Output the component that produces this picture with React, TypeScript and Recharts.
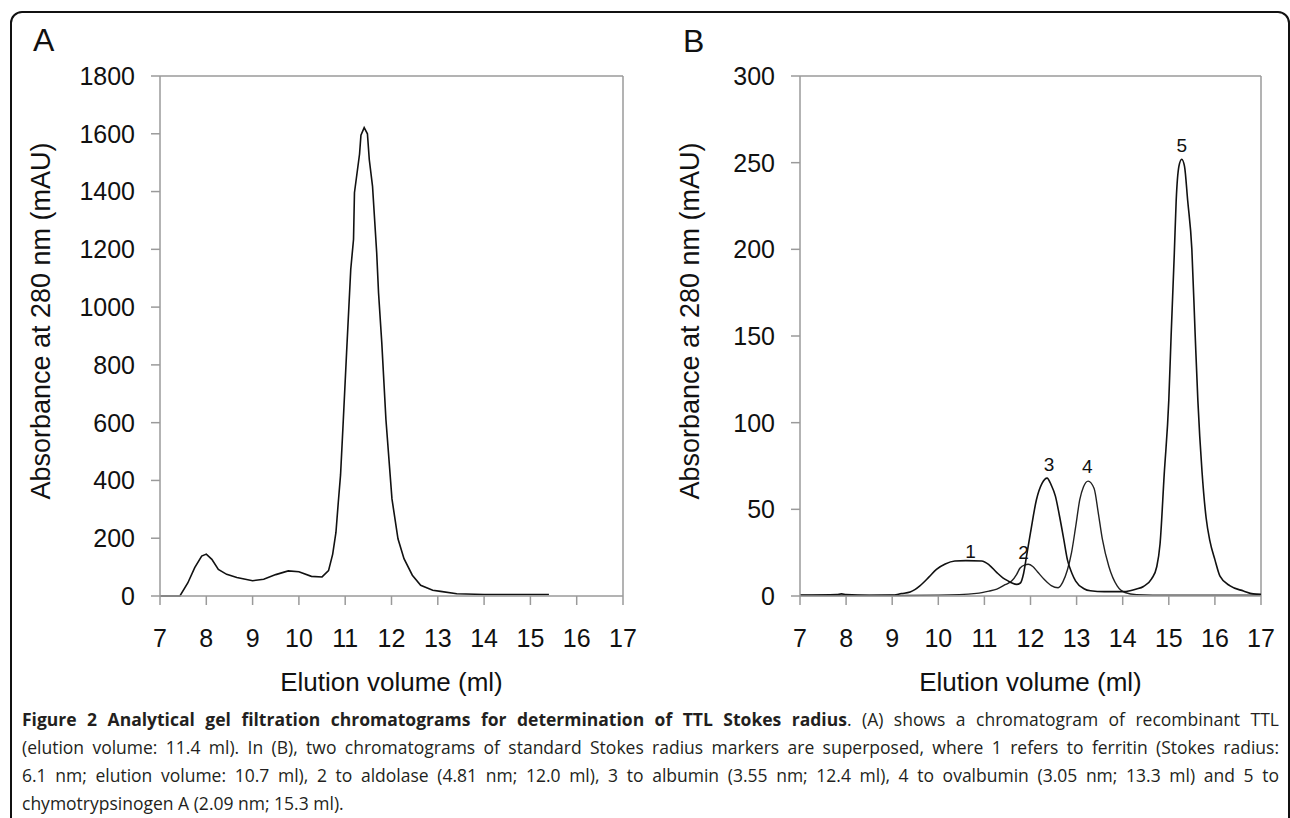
import { LineChart, Line, XAxis, YAxis, ReferenceLine, ReferenceDot } from "recharts";

// Panel A: recombinant TTL
const volumeA = [7.0, 7.43, 7.6, 7.75, 7.9, 8.0, 8.12, 8.26, 8.44, 8.66, 9.0, 9.24, 9.5, 9.77, 10.0, 10.27, 10.5, 10.64, 10.73, 10.8, 10.85, 10.9, 10.95, 11.03, 11.12, 11.18, 11.2, 11.31, 11.34, 11.41, 11.48, 11.52, 11.59, 11.68, 11.72, 11.79, 11.88, 12.01, 12.14, 12.27, 12.45, 12.63, 12.89, 13.06, 13.41, 14.0, 15.4];
const absorbanceA = [0, 0, 45, 98, 138, 145, 127, 92, 75, 64, 53, 58, 74, 87, 84, 68, 66, 88, 145, 220, 323, 420, 580, 843, 1131, 1235, 1396, 1530, 1595, 1621, 1600, 1511, 1419, 1189, 1050, 877, 610, 336, 198, 129, 72, 37, 20, 16, 8, 5, 5];

// Panel B: markers 1, 3, 5
const volumeB1 = [7.0, 7.8, 7.9, 8.0, 8.5, 9.0, 9.2, 9.39, 9.5, 9.6, 9.8, 9.96, 10.15, 10.36, 10.6, 10.94, 11.1, 11.27, 11.4, 11.52, 11.6, 11.7, 11.78, 11.85, 11.92, 12.0, 12.13, 12.25, 12.36, 12.45, 12.54, 12.63, 12.72, 12.8, 12.9, 12.98, 13.16, 13.3, 13.6, 14.0, 14.16, 14.3, 14.45, 14.63, 14.74, 14.81, 14.9, 15.0, 15.05, 15.12, 15.16, 15.22, 15.28, 15.34, 15.41, 15.5, 15.57, 15.63, 15.72, 15.81, 15.89, 16.0, 16.11, 16.33, 16.62, 16.83, 17.0];
const absorbanceB1 = [0.5, 0.8, 1.2, 0.8, 0.4, 0.5, 1.4, 2.3, 3.8, 5.8, 11, 15.4, 18.5, 20.2, 20.4, 20.2, 18, 13.5, 10.5, 8.6, 7.5, 6.7, 7.5, 13, 24, 36.5, 55.7, 65, 68, 64, 57.6, 46, 33, 21, 13, 8.6, 4.2, 3, 2.5, 2.5, 3, 4, 5.5, 10, 17, 30, 70, 113, 150, 198, 228, 248, 252, 248, 228, 200, 152, 113, 72, 45, 32, 21, 11.5, 5.8, 2.9, 1.2, 1];

// Panel B: markers 2, 4
const volumeB2 = [7.0, 9.0, 10.0, 10.83, 11.1, 11.27, 11.45, 11.59, 11.7, 11.77, 11.88, 11.95, 12.05, 12.15, 12.3, 12.45, 12.6, 12.7, 12.8, 12.89, 12.98, 13.07, 13.15, 13.25, 13.38, 13.47, 13.56, 13.7, 13.88, 14.05, 14.3, 15.0, 17.0];
const absorbanceB2 = [0.3, 0.3, 0.5, 1.5, 2.8, 4, 6.5, 8.6, 12.5, 16, 18, 18.3, 17, 14, 9.5, 6, 4.8, 8, 15, 25, 40, 55.7, 63, 66.3, 62, 48, 32.6, 17, 5.8, 2, 0.8, 0.5, 0.5];

const peakNames = ["1", "2", "3", "4", "5"];
const peakVolumes = [10.7, 11.85, 12.4, 13.23, 15.28];
const peakHeights = [26, 25, 76, 75, 260];

const volumeTicks = [7, 8, 9, 10, 11, 12, 13, 14, 15, 16, 17];
const ticksA = [0, 200, 400, 600, 800, 1000, 1200, 1400, 1600, 1800];
const ticksB = [0, 50, 100, 150, 200, 250, 300];

const toRows = (vol: number[], abs: number[]) => vol.map((v, i) => ({ vol: v, abs: abs[i] }));
const dataA = toRows(volumeA, absorbanceA);
const dataB1 = toRows(volumeB1, absorbanceB1);
const dataB2 = toRows(volumeB2, absorbanceB2);

const FONT = '"Liberation Sans", Arial, sans-serif';
const AXIS = "#9a9a9a";
const tickStyle = { fill: "#111", fontSize: 25, fontFamily: FONT };

function YTitle({ viewBox, dx }: any) {
  const x = viewBox.x + dx;
  const y = viewBox.y + viewBox.height / 2 - 15;
  return (
    <text x={x} y={y} transform={`rotate(-90 ${x} ${y})`} textAnchor="middle" dominantBaseline="central"
      fill="#111" fontSize={27} fontFamily={FONT}>
      Absorbance at 280 nm (mAU)
    </text>
  );
}

function XTitle({ viewBox }: any) {
  return (
    <text x={viewBox.x + viewBox.width / 2} y={viewBox.y + 86} textAnchor="middle" dominantBaseline="central"
      fill="#111" fontSize={26} fontFamily={FONT}>
      Elution volume (ml)
    </text>
  );
}

function Panel({ yMax, yTicks, titleDx, right, width, children }: any) {
  return (
    <LineChart width={width} height={720} margin={{ top: 76, right, bottom: 94, left: 100 }}>
      <XAxis dataKey="vol" type="number" domain={[7, 17]} ticks={volumeTicks} allowDataOverflow
        height={30} tickSize={9} tickMargin={24} tick={tickStyle} stroke={AXIS} strokeWidth={1.5}
        label={{ content: (p: any) => <XTitle {...p} /> }} />
      <YAxis type="number" domain={[0, yMax]} ticks={yTicks} width={60} tickSize={9} tickMargin={16}
        tick={tickStyle} stroke={AXIS} strokeWidth={1.5}
        label={{ content: (p: any) => <YTitle {...p} dx={titleDx} /> }} />
      <ReferenceLine y={yMax} stroke={AXIS} strokeWidth={1.5} />
      <ReferenceLine x={17} stroke={AXIS} strokeWidth={1.5} />
      {children}
    </LineChart>
  );
}

const lineStyle = { textAlign: "justify", textAlignLast: "justify", whiteSpace: "nowrap" } as const;

export default function App() {
  return (
    <div style={{ position: "absolute", left: 0, top: 0, width: 1290, height: 818, background: "#fff", overflow: "hidden" }}>
      <div style={{ position: "absolute", left: 10, top: 11, width: 1276, height: 840, border: "2px solid #111", borderRadius: 12 }} />
      <div style={{ position: "absolute", left: 33, top: 24, fontFamily: FONT, fontSize: 32, lineHeight: "32px", color: "#111" }}>A</div>
      <div style={{ position: "absolute", left: 683, top: 25, fontFamily: FONT, fontSize: 32, lineHeight: "32px", color: "#111" }}>B</div>

      <div style={{ position: "absolute", left: 0, top: 0 }}>
        <Panel yMax={1800} yTicks={ticksA} titleDx={-59} right={17} width={640}>
          <Line data={dataA} dataKey="abs" type="linear" stroke="#111" strokeWidth={1.6} dot={false} isAnimationActive={false} />
        </Panel>
      </div>

      <div style={{ position: "absolute", left: 640, top: 0 }}>
        <Panel yMax={300} yTicks={ticksB} titleDx={-50} right={29} width={650}>
          <Line data={dataB2} dataKey="abs" type="monotone" stroke="#222" strokeWidth={1.4} dot={false} isAnimationActive={false} />
          <Line data={dataB1} dataKey="abs" type="monotone" stroke="#111" strokeWidth={1.6} dot={false} isAnimationActive={false} />
          {peakNames.map((n, i) => (
            <ReferenceDot key={n} x={peakVolumes[i]} y={peakHeights[i]} r={1} fill="none" stroke="none"
              label={{ value: n, position: "center", fontSize: 19, fill: "#111", fontFamily: FONT }} />
          ))}
        </Panel>
      </div>

      <div style={{ position: "absolute", left: 22, top: 705, width: 1257, fontFamily: '"Open Sans", sans-serif', fontSize: 17.5, lineHeight: "28px", color: "#231f20" }}>
        <div style={lineStyle}>
          <b>Figure 2 Analytical gel filtration chromatograms for determination of TTL Stokes radius</b>. (A) shows a chromatogram of recombinant TTL
        </div>
        <div style={lineStyle}>
          (elution volume: 11.4 ml). In (B), two chromatograms of standard Stokes radius markers are superposed, where 1 refers to ferritin (Stokes radius:
        </div>
        <div style={lineStyle}>
          6.1 nm; elution volume: 10.7 ml), 2 to aldolase (4.81 nm; 12.0 ml), 3 to albumin (3.55 nm; 12.4 ml), 4 to ovalbumin (3.05 nm; 13.3 ml) and 5 to
        </div>
        <div style={{ whiteSpace: "nowrap" }}>chymotrypsinogen A (2.09 nm; 15.3 ml).</div>
      </div>
    </div>
  );
}
